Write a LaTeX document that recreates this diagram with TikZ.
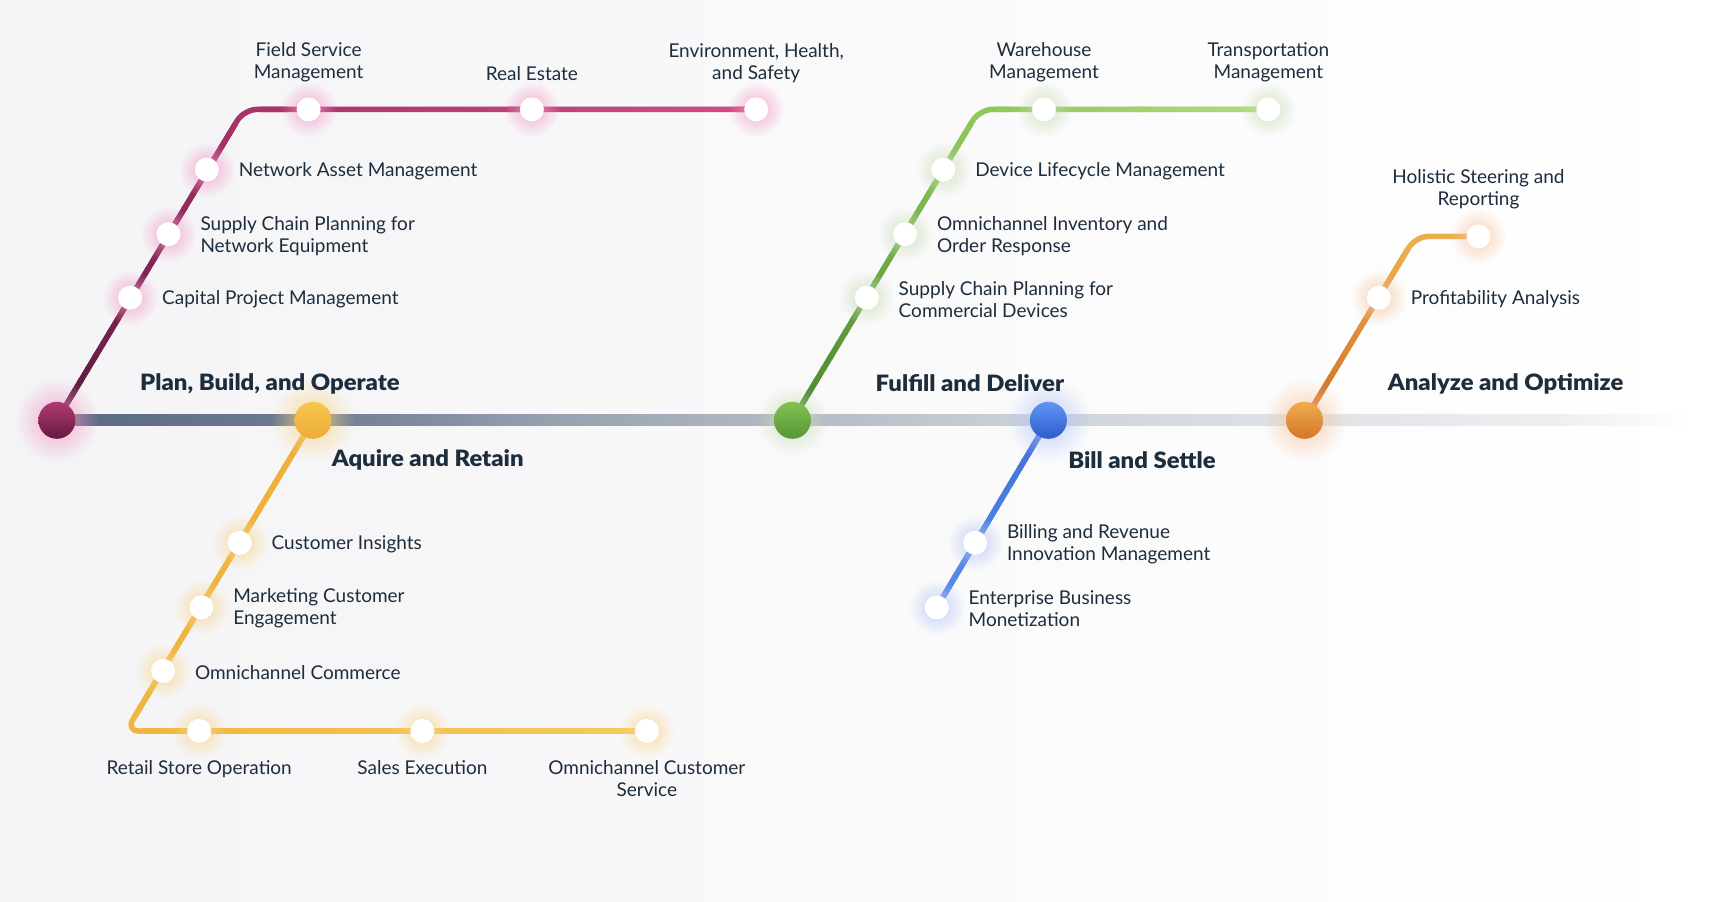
\documentclass[tikz,border=0pt]{standalone}
\usepackage{fontspec}
\setmainfont{Lato}
\newfontfamily\headfont{Lato Black}[FakeStretch=1.06]
\usetikzlibrary{calc,fadings}
\definecolor{txt}{HTML}{1D2D3E}
\definecolor{bgl}{HTML}{F4F4F6}
\definecolor{m1}{HTML}{5A6A83}
\definecolor{m2}{HTML}{6E7C92}
\definecolor{m3}{HTML}{96A1B0}
\definecolor{m4}{HTML}{B3BAC4}
\definecolor{m5}{HTML}{CDD2D9}
\definecolor{m6}{HTML}{DFE2E6}
\definecolor{m7}{HTML}{EDEFF1}
% purple
\definecolor{pA}{HTML}{581A3E}
\definecolor{pB}{HTML}{A83369}
\definecolor{pC}{HTML}{D24B86}
\definecolor{pGlow}{HTML}{F39AC6}
\definecolor{pTop}{HTML}{B03A72}
\definecolor{pBot}{HTML}{661944}
% yellow
\definecolor{yA}{HTML}{EEAF3A}
\definecolor{yB}{HTML}{F0B63F}
\definecolor{yC}{HTML}{F4CA5E}
\definecolor{yGlow}{HTML}{F8D48A}
\definecolor{yTop}{HTML}{F7C550}
\definecolor{yBot}{HTML}{EDAC36}
% green
\definecolor{gA}{HTML}{4B8530}
\definecolor{gB}{HTML}{8EC85A}
\definecolor{gC}{HTML}{B3DA7C}
\definecolor{gGlow}{HTML}{C9DDB4}
\definecolor{gTop}{HTML}{84C254}
\definecolor{gBot}{HTML}{579536}
% blue
\definecolor{bA}{HTML}{3D6FD8}
\definecolor{bB}{HTML}{5A8EE8}
\definecolor{bGlow}{HTML}{B4C6F6}
\definecolor{bTop}{HTML}{5F95F2}
\definecolor{bBot}{HTML}{2D5CCE}
% orange
\definecolor{oA}{HTML}{CF6D28}
\definecolor{oB}{HTML}{EBAE4C}
\definecolor{oC}{HTML}{F0B855}
\definecolor{oGlow}{HTML}{F6C49C}
\definecolor{oTop}{HTML}{EEAE4C}
\definecolor{oBot}{HTML}{D5742B}

\pgfdeclarehorizontalshading{mainshade}{100bp}{color(0bp)=(m1); color(25bp)=(m1); color(33bp)=(m2); color(40bp)=(m3); color(47.5bp)=(m4); color(55bp)=(m5); color(63bp)=(m6); color(71bp)=(m7); color(75bp)=(white); color(100bp)=(white)}
\tikzfading[name=glowfade, inner color=transparent!20, outer color=transparent!100]

\newcommand{\gradseg}[5]{%
  \foreach \k in {0,...,23}{%
    \pgfmathsetmacro{\ta}{\k/24}%
    \pgfmathsetmacro{\tb}{min(1,(\k+1.3)/24)}%
    \pgfmathtruncatemacro{\pc}{100-(\k+0.5)*100/24}%
    \draw[line width=#5, line cap=butt, color=#3!\pc!#4] ($(#1)!\ta!(#2)$) -- ($(#1)!\tb!(#2)$);
  }}
\newcommand{\glowat}[3]{\fill[#2, path fading=glowfade] (#1) circle (#3);}

\begin{document}
\begin{tikzpicture}[x=1pt,y=-1pt,
  station/.style={circle, fill=white, minimum size=24pt, inner sep=0pt},
  hub/.style={circle, minimum size=37pt, inner sep=0pt},
  lbl/.style={text=txt, inner sep=0pt, font=\fontsize{19}{22}\selectfont, align=left, yshift=-1.5pt},
  lblc/.style={lbl, align=center},
  head/.style={text=txt, inner sep=0pt, font=\headfont\fontsize{22.5}{26}\selectfont, anchor=west, yshift=-1.5pt},
  track/.style={line width=5.5pt, rounded corners=13pt, line cap=round, line join=round}]
\useasboundingbox (0,0) rectangle (1716,902);
\shade[left color=bgl, right color=white] (0,0) rectangle (1716,902);

% positions
\coordinate (hp) at (56.9,420.3);
\coordinate (hy) at (313,420.3);
\coordinate (hg) at (792.4,420.3);
\coordinate (hb) at (1048.4,420.3);
\coordinate (ho) at (1304.5,420.3);
\coordinate (mainend) at (1691,420.3);

\coordinate (pcap) at (130.2,297.7);
\coordinate (psup) at (168.5,234.2);
\coordinate (pnet) at (206.8,169.6);
\coordinate (pfsm) at (308.6,109.4);
\coordinate (pre) at (531.9,109.4);
\coordinate (pehs) at (756.2,109.4);
\coordinate (pc) at (244,109.4);

\coordinate (yci) at (239.7,542.8);
\coordinate (ymce) at (201.4,607.4);
\coordinate (yoc) at (163.1,670.9);
\coordinate (yrso) at (199.2,731);
\coordinate (yse) at (422.4,731);
\coordinate (yocs) at (646.8,731);
\coordinate (yc) at (126,731);

\coordinate (gscp) at (866.8,297.7);
\coordinate (goior) at (905,234.2);
\coordinate (gdlm) at (943.4,169.6);
\coordinate (gwm) at (1044,109.4);
\coordinate (gtm) at (1268.4,109.4);
\coordinate (gc) at (979.5,109.4);

\coordinate (bbrim) at (975.1,542.8);
\coordinate (bebm) at (936.8,607.4);

\coordinate (opa) at (1378.9,297.7);
\coordinate (ohsr) at (1478.5,236.4);
\coordinate (oc) at (1415.5,236.4);

% main line
\shade[shading=mainshade] ($(hp)+(0,-5.5)$) rectangle ($(mainend)+(0,5.5)$);

% purple track
\draw[track, pB] (hp) -- (pc) -- (pehs);
\coordinate (pc1) at ($(pc)!16pt!(hp)$);
\coordinate (pc2) at ($(pc)!16pt!(pehs)$);
\gradseg{hp}{pc1}{pA}{pB}{5.5pt}
\gradseg{pc2}{pehs}{pB}{pC}{5.5pt}

% yellow track
\draw[track, yB] (hy) -- (yc) -- (yocs);
\coordinate (yc1) at ($(yc)!16pt!(hy)$);
\coordinate (yc2) at ($(yc)!16pt!(yocs)$);
\gradseg{hy}{yc1}{yA}{yB}{5.5pt}
\gradseg{yc2}{yocs}{yB}{yC}{5.5pt}

% green track
\draw[track, gB] (hg) -- (gc) -- (gtm);
\coordinate (gc1) at ($(gc)!16pt!(hg)$);
\coordinate (gc2) at ($(gc)!16pt!(gtm)$);
\gradseg{hg}{gc1}{gA}{gB}{5.5pt}
\gradseg{gc2}{gtm}{gB}{gC}{5.5pt}

% blue track
\draw[track, bA] (hb) -- (bebm);
\gradseg{hb}{bebm}{bA}{bB}{5.5pt}

% orange track
\draw[track, oB] (ho) -- (oc) -- (ohsr);
\coordinate (oc1) at ($(oc)!16pt!(ho)$);
\gradseg{ho}{oc1}{oA}{oB}{5.5pt}

% glows
\foreach \p in {pcap,psup,pnet,pfsm,pre,pehs}{\glowat{\p}{pGlow}{28}}
\foreach \p in {yci,ymce,yoc,yrso,yse,yocs}{\glowat{\p}{yGlow}{28}}
\foreach \p in {gscp,goior,gdlm,gwm,gtm}{\glowat{\p}{gGlow}{28}}
\foreach \p in {bbrim,bebm}{\glowat{\p}{bGlow}{28}}
\foreach \p in {opa,ohsr}{\glowat{\p}{oGlow}{28}}
\glowat{hp}{pGlow}{42}
\glowat{hy}{yGlow}{42}
\glowat{hg}{gGlow}{36}
\glowat{hb}{bGlow}{42}
\glowat{ho}{oGlow}{42}

% stations
\foreach \p in {pcap,psup,pnet,pfsm,pre,pehs,yci,ymce,yoc,yrso,yse,yocs,gscp,goior,gdlm,gwm,gtm,bbrim,bebm,opa,ohsr}{
  \node[station] (n-\p) at (\p) {};}

% hubs
\node[hub, top color=pTop, bottom color=pBot] (plan) at (hp) {};
\node[hub, top color=yTop, bottom color=yBot] (acq) at (hy) {};
\node[hub, top color=gTop, bottom color=gBot] (ful) at (hg) {};
\node[hub, top color=bTop, bottom color=bBot] (bill) at (hb) {};
\node[hub, top color=oTop, bottom color=oBot] (ana) at (ho) {};

% headings
\node[head] (t-plan) at (140,382) {Plan, Build, and Operate};
\node[head] (t-acq) at (331.6,458.6) {Aquire and Retain};
\node[head] (t-ful) at (875.5,382) {Fulfill and Deliver};
\node[head] (t-bill) at (1068.1,458.6) {Bill and Settle};
\node[head] (t-ana) at (1387.7,382) {Analyze and Optimize};

% purple labels
\node[lblc] (l-pfsm) at (308.6,61.2) {Field Service\\Management};
\node[lblc] (l-pre) at (531.9,72.2) {Real Estate};
\node[lblc] (l-pehs) at (756.2,61.2) {Environment, Health,\\and Safety};
\node[lbl, anchor=west] (l-pnet) at (238.6,169.6) {Network Asset Management};
\node[lbl, anchor=west] (l-psup) at (200.3,234.2) {Supply Chain Planning for\\Network Equipment};
\node[lbl, anchor=west] (l-pcap) at (162,297.7) {Capital Project Management};

% yellow labels
\node[lbl, anchor=west] (l-yci) at (271.4,542.8) {Customer Insights};
\node[lbl, anchor=west] (l-ymce) at (233.1,606.3) {Marketing Customer\\Engagement};
\node[lbl, anchor=west] (l-yoc) at (194.8,670.9) {Omnichannel Commerce};
\node[lblc, anchor=north] (l-yrso) at (199.2,758.5) {Retail Store Operation};
\node[lblc, anchor=north] (l-yse) at (422.4,758.5) {Sales Execution};
\node[lblc, anchor=north] (l-yocs) at (646.8,758.5) {Omnichannel Customer\\Service};

% green labels
\node[lblc] (l-gwm) at (1044,61.2) {Warehouse\\Management};
\node[lblc] (l-gtm) at (1268.4,61.2) {Transportation\\Management};
\node[lbl, anchor=west] (l-gdlm) at (975.1,169.6) {Device Lifecycle Management};
\node[lbl, anchor=west] (l-goior) at (936.8,234.2) {Omnichannel Inventory and\\Order Response};
\node[lbl, anchor=west] (l-gscp) at (898.5,297.7) {Supply Chain Planning for\\Commercial Devices};

% blue labels
\node[lbl, anchor=west] (l-bbrim) at (1006.8,542.8) {Billing and Revenue\\Innovation Management};
\node[lbl, anchor=west] (l-bebm) at (968.5,607.4) {Enterprise Business\\Monetization};

% orange labels
\node[lblc] (l-ohsr) at (1478.5,188.2) {Holistic Steering and\\Reporting};
\node[lbl, anchor=west] (l-opa) at (1410.7,297.7) {Profitability Analysis};
\end{tikzpicture}
\end{document}
